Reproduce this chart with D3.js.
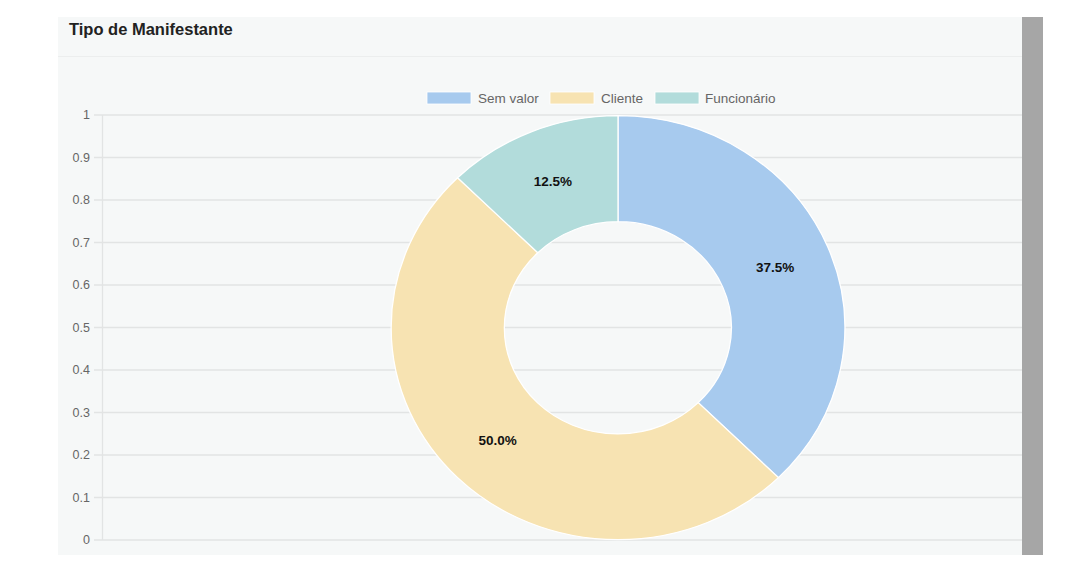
<!DOCTYPE html>
<html><head><meta charset="utf-8">
<script src="https://cdn.jsdelivr.net/npm/d3@7"></script>
<style>html,body{margin:0;padding:0;background:#fff;}svg{display:block;}</style>
</head><body>
<svg id="c" width="1080" height="571"></svg>
<script>
const title = "Tipo de Manifestante";
const categories = ["Sem valor", "Cliente", "Funcionário"];
const values = [3, 4, 1];
const colors = ["#a7caee", "#f7e3b2", "#b2dcdb"];
const yTicks = [0, 0.1, 0.2, 0.3, 0.4, 0.5, 0.6, 0.7, 0.8, 0.9, 1];

const svg = d3.select("#c");
const font = "'Liberation Sans', Arial, Helvetica, sans-serif";

// panel
svg.append("rect").attr("x", 58).attr("y", 17).attr("width", 964).attr("height", 538).attr("fill", "#f6f8f8");
svg.append("line").attr("x1", 58).attr("x2", 1022).attr("y1", 56.5).attr("y2", 56.5).attr("stroke", "#eceeee").attr("stroke-width", 1);
svg.append("rect").attr("x", 1022).attr("y", 17).attr("width", 21).attr("height", 538).attr("fill", "#a6a6a6");

svg.append("text").attr("x", 69).attr("y", 34.5).attr("font-family", font).attr("font-size", 16.5)
  .attr("font-weight", 600).attr("fill", "#222").text(title);

// y axis / grid
const y = d3.scaleLinear().domain([0, 1]).range([540, 115]);
const gridG = svg.append("g");
gridG.selectAll("line.g").data(yTicks).join("line")
  .attr("x1", 94).attr("x2", 1022)
  .attr("y1", d => y(d)).attr("y2", d => y(d))
  .attr("stroke", "#e2e4e4").attr("stroke-width", 1.3);
gridG.append("line").attr("x1", 102.5).attr("x2", 102.5).attr("y1", y(1)).attr("y2", y(0))
  .attr("stroke", "#e2e4e4").attr("stroke-width", 1.3);
gridG.selectAll("text").data(yTicks).join("text")
  .attr("x", 90).attr("y", d => y(d)).attr("dy", "0.35em").attr("text-anchor", "end")
  .attr("font-family", font).attr("font-size", 12.5).attr("fill", "#666")
  .text(d => d3.format("~g")(d));

// legend
const legendItems = [{x: 427, tx: 478}, {x: 550, tx: 601}, {x: 655, tx: 705}];
const lg = svg.append("g");
categories.forEach((c, i) => {
  lg.append("rect").attr("x", legendItems[i].x).attr("y", 92).attr("width", 44).attr("height", 12)
    .attr("fill", colors[i]).attr("stroke", "#fff").attr("stroke-width", 0.8);
  lg.append("text").attr("x", legendItems[i].tx).attr("y", 98).attr("dy", "0.35em")
    .attr("font-family", font).attr("font-size", 13.5).attr("fill", "#666").text(c);
});

// donut
const cx = 618, cy = 327.7, R = 212, r = 106, sx = 1.07;
const total = d3.sum(values);
const pie = d3.pie().sort(null).value(d => d)(values);
const arc = d3.arc().innerRadius(r).outerRadius(R);
const labelArc = d3.arc().innerRadius((R + r) / 2).outerRadius((R + r) / 2);
const g = svg.append("g").attr("transform", `translate(${cx},${cy}) scale(${sx},1)`);
g.selectAll("path").data(pie).join("path")
  .attr("d", arc).attr("fill", (d, i) => colors[i]).attr("stroke", "#fff").attr("stroke-width", 1.2);
const lab = svg.append("g").attr("transform", `translate(${cx},${cy})`);
lab.selectAll("text").data(pie).join("text")
  .attr("x", d => labelArc.centroid(d)[0] * sx)
  .attr("y", d => labelArc.centroid(d)[1])
  .attr("dy", "0.35em").attr("text-anchor", "middle")
  .attr("font-family", font).attr("font-size", 13.5).attr("font-weight", "bold").attr("fill", "#111")
  .text(d => (d.value / total * 100).toFixed(1) + "%");
</script>
</body></html>
